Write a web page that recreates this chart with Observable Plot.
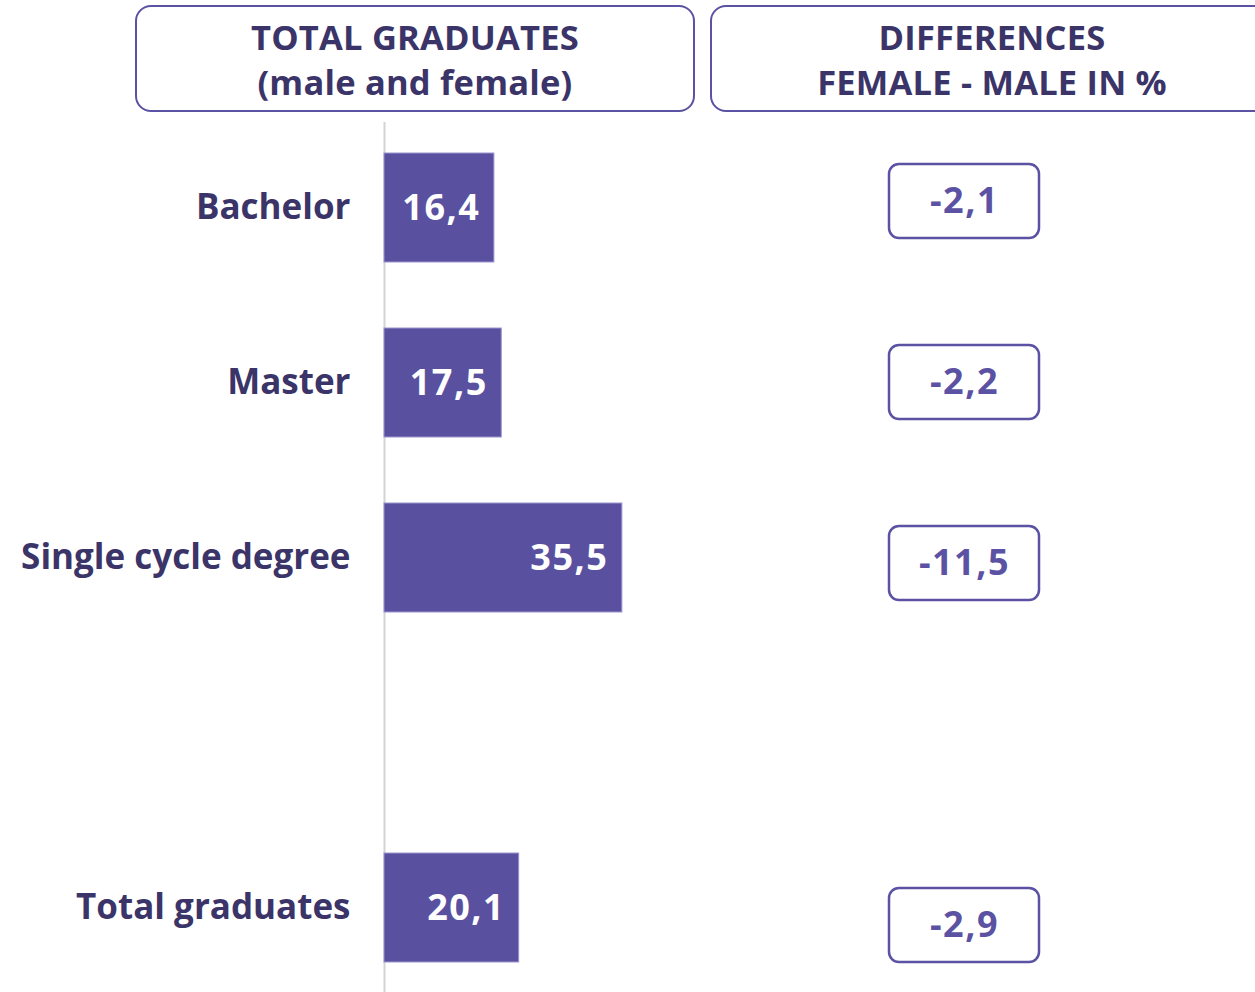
<!DOCTYPE html>
<html>
<head>
<meta charset="utf-8">
<script src="https://cdn.jsdelivr.net/npm/d3@7"></script>
<script src="https://cdn.jsdelivr.net/npm/@observablehq/plot@0.6"></script>
<style>
  html, body { margin: 0; padding: 0; background: #fff; }
  #wrap { position: relative; width: 1255px; height: 992px; overflow: hidden; font-family: "Open Sans", sans-serif; }
  #hdr { position: relative; height: 120px; }
  .box {
    position: absolute; top: 5px; height: 103px; box-sizing: content-box;
    border: 2px solid #5B52A3; border-radius: 16px;
    display: flex; flex-direction: column; justify-content: center; align-items: center;
    color: #3B3468; font-weight: 700; font-size: 34.5px; line-height: 45px; text-align: center;
    letter-spacing: 0.2px;
  }
  #charts { display: flex; height: 872px; }
  #charts svg { display: block; }
  #charts g[aria-label="text"] text { letter-spacing: 1.5px; }
</style>
</head>
<body>
<div id="wrap">
  <div id="hdr">
    <div class="box" style="left:135px;width:556px"><div>TOTAL GRADUATES</div><div>(male and female)</div></div>
    <div class="box" style="left:710px;width:560px"><div>DIFFERENCES</div><div>FEMALE - MALE IN %</div></div>
  </div>
  <div id="charts"></div>
</div>
<script>
// Data
const categories = ["Bachelor", "Master", "Single cycle degree", "", "Total graduates"];
const barCategories = ["Bachelor", "Master", "Single cycle degree", "Total graduates"];
const totalValues = [16.4, 17.5, 35.5, 20.1];
const diffValues = [-2.1, -2.2, -11.5, -2.9];

const totals = barCategories.map((c, i) => ({cat: c, value: totalValues[i]}));
const diffs = barCategories.map((c, i) => ({cat: c, value: diffValues[i]}));
const fmt = v => v.toFixed(1).replace(".", ",");

const font = "'Open Sans', sans-serif";

const left = Plot.plot({
  width: 700, height: 872,
  marginLeft: 384, marginRight: 0, marginTop: 2, marginBottom: 0,
  style: {fontFamily: font, color: "#3B3468", background: "transparent", overflow: "visible"},
  x: {domain: [0, 47.16], axis: null},
  y: {domain: categories, paddingInner: 0.378, paddingOuter: 0.171},
  marks: [
    Plot.ruleX([0], {stroke: "#d4d4d4", strokeWidth: 2}),
    Plot.barX(totals, {x: "value", y: "cat", fill: "#5A50A0", stroke: "#9C95D0", strokeWidth: 1}),
    Plot.text(totals, {x: "value", y: "cat", text: d => fmt(d.value), textAnchor: "end", dx: -14,
      fill: "white", fontSize: 36, fontWeight: "bold"}),
    Plot.axisY({tickSize: 0, tickPadding: 34, fontSize: 35, fontWeight: "bold", label: null})
  ]
});

const right = Plot.plot({
  width: 555, height: 872,
  marginLeft: 189, marginRight: 216, marginTop: 42.7, marginBottom: 28.1,
  style: {fontFamily: font, background: "transparent", overflow: "visible"},
  x: {domain: ["diff"], padding: 0, axis: null},
  y: {domain: categories, paddingInner: 0.593, paddingOuter: 0, axis: null},
  marks: [
    Plot.cell(diffs, {x: () => "diff", y: "cat", fill: "white", stroke: "#5B52A3", strokeWidth: 2.5, rx: 10}),
    Plot.text(diffs, {x: () => "diff", y: "cat", text: d => fmt(d.value), fill: "#5B52A3",
      fontSize: 36, fontWeight: "bold"})
  ]
});

document.getElementById("charts").append(left, right);
</script>
</body>
</html>
